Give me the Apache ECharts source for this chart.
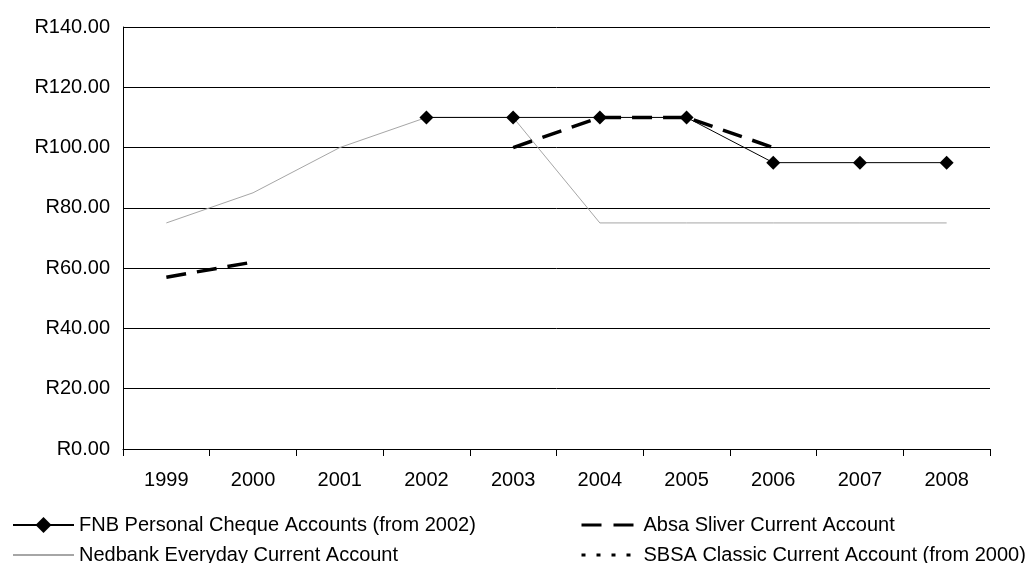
<!DOCTYPE html>
<html>
<head>
<meta charset="utf-8">
<script src="https://cdn.jsdelivr.net/npm/echarts@6/dist/echarts.min.js"></script>
<style>
  html, body { margin: 0; padding: 0; background: #fff; }
  #chart { width: 1028px; height: 563px; }
</style>
</head>
<body>
<div id="chart"></div>
<script>
// Monthly fees per account, 1999-2008 (Rand)
const years = ['1999', '2000', '2001', '2002', '2003', '2004', '2005', '2006', '2007', '2008'];
const fnbPersonal = [null, null, null, 110, 110, 110, 110, 95, 95, 95];
const absaSilver = [57, 62, null, null, 100, 110, 110, 100, null, null];
const nedbankEveryday = [75, 85, 100, 110, 110, 75, 75, 75, 75, 75];
const sbsaClassic = [null, null, null, null, null, null, null, null, null, null];

const seriesNames = {
  fnb: 'FNB Personal Cheque Accounts (from 2002)',
  absa: 'Absa Sliver Current Account',
  ned: 'Nedbank Everyday Current Account',
  sbsa: 'SBSA Classic Current Account (from 2000)'
};

const font = 'Liberation Sans, Arial, sans-serif';
const noMarker = { color: 'rgba(0,0,0,0)', borderWidth: 0, opacity: 0 };
const legendText = { fontSize: 20, fontFamily: font, color: '#000' };

const chart = echarts.init(document.getElementById('chart'), null, { renderer: 'canvas' });

chart.setOption({
  animation: false,
  backgroundColor: '#ffffff',
  textStyle: { fontFamily: font, color: '#000' },
  grid: { left: 123, right: 38, top: 27, bottom: 114 },
  xAxis: {
    type: 'category',
    data: years,
    boundaryGap: true,
    axisLine: { lineStyle: { color: '#000', width: 1 } },
    axisTick: { show: true, length: 7, lineStyle: { color: '#000' } },
    axisLabel: { color: '#000', fontSize: 20, fontFamily: font, margin: 21 },
    splitLine: { show: false }
  },
  yAxis: {
    type: 'value',
    min: 0,
    max: 140,
    interval: 20,
    axisLine: { show: true, lineStyle: { color: '#000', width: 1 } },
    axisTick: { show: false },
    axisLabel: {
      color: '#000', fontSize: 20, fontFamily: font, margin: 13,
      formatter: v => 'R' + v.toFixed(2)
    },
    splitLine: { show: true, lineStyle: { color: '#000', width: 1 } }
  },
  legend: [
    {
      orient: 'vertical',
      left: 12,
      top: 515,
      height: 60,
      padding: 0,
      itemWidth: 61,
      itemHeight: 20,
      itemGap: 10,
      textStyle: legendText,
      data: [
        { name: seriesNames.fnb },
        { name: seriesNames.ned, itemStyle: noMarker }
      ]
    },
    {
      orient: 'vertical',
      left: 580,
      top: 515,
      height: 60,
      padding: 0,
      itemWidth: 57,
      itemHeight: 20,
      itemGap: 10,
      textStyle: legendText,
      data: [
        { name: seriesNames.absa, itemStyle: noMarker, lineStyle: { width: 3, type: [20, 12] } },
        { name: seriesNames.sbsa, itemStyle: noMarker, lineStyle: { width: 3, type: [4, 11] } }
      ]
    }
  ],
  series: [
    {
      name: seriesNames.ned,
      type: 'line',
      data: nedbankEveryday,
      symbol: 'none',
      z: 1,
      lineStyle: { color: '#a6a6a6', width: 1 },
      itemStyle: { color: '#a6a6a6' }
    },
    {
      name: seriesNames.fnb,
      type: 'line',
      data: fnbPersonal,
      symbol: 'diamond',
      symbolSize: 14,
      z: 3,
      lineStyle: { color: '#000', width: 1 },
      itemStyle: { color: '#000' }
    },
    {
      name: seriesNames.absa,
      type: 'line',
      data: absaSilver,
      symbol: 'none',
      connectNulls: false,
      z: 4,
      lineStyle: { color: '#000', width: 3.5, type: [20, 11] },
      itemStyle: { color: '#000' }
    },
    {
      name: seriesNames.sbsa,
      type: 'line',
      data: sbsaClassic,
      symbol: 'none',
      z: 2,
      lineStyle: { color: '#000', width: 3, type: [4, 11] },
      itemStyle: { color: '#000' }
    }
  ]
});
</script>
</body>
</html>
